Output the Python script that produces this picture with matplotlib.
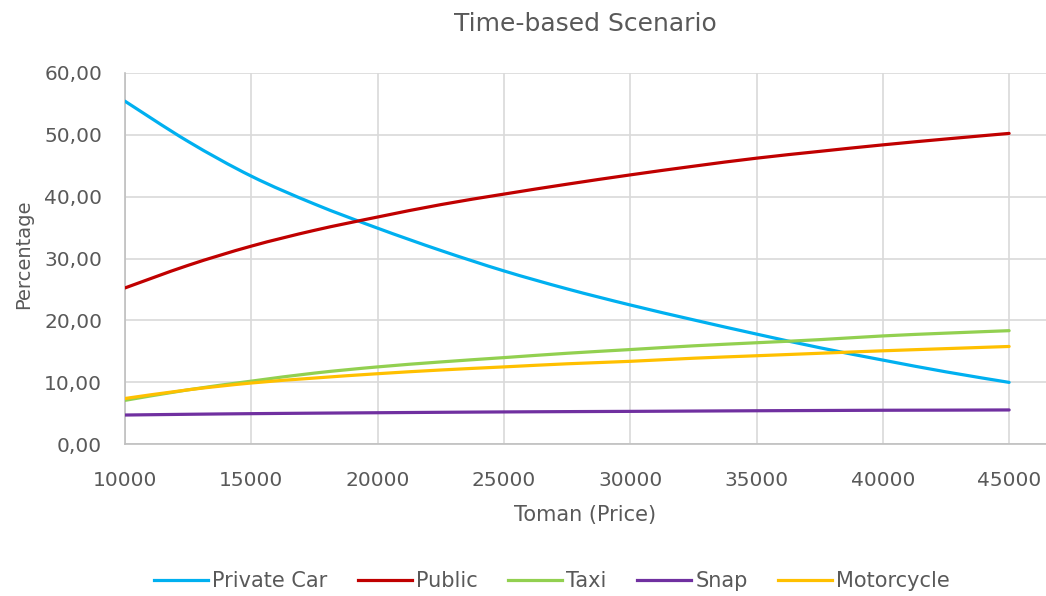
import matplotlib
matplotlib.use("Agg")
import matplotlib.pyplot as plt
from matplotlib.path import Path
from matplotlib.patches import PathPatch
from matplotlib.lines import Line2D
from matplotlib.ticker import FuncFormatter, MultipleLocator

# price steps (Toman) and mode shares (%) under the time-based scenario
price = [10000, 12500, 15000, 17500, 20000, 22500, 25000, 27500,
         30000, 32500, 35000, 37500, 40000, 42500, 45000]
private_car = [55.4, 48.9, 43.3, 38.8, 34.9, 31.3, 28.0, 25.1,
               22.5, 20.1, 17.8, 15.6, 13.6, 11.7, 10.0]
public = [25.25, 28.9, 32.0, 34.55, 36.7, 38.7, 40.4, 42.0,
          43.5, 44.9, 46.2, 47.3, 48.35, 49.3, 50.2]
taxi = [7.1, 8.8, 10.2, 11.5, 12.5, 13.3, 14.0, 14.7,
        15.3, 15.9, 16.4, 16.9, 17.5, 17.95, 18.35]
snap = [4.73, 4.85, 4.95, 5.03, 5.1, 5.17, 5.23, 5.28,
        5.32, 5.37, 5.42, 5.46, 5.5, 5.52, 5.55]
motorcycle = [7.4, 8.8, 9.9, 10.7, 11.4, 12.0, 12.5, 13.0,
              13.4, 13.9, 14.3, 14.7, 15.1, 15.45, 15.8]

series = [
    ("Private Car", private_car, "#00B0F0"),
    ("Public", public, "#C00000"),
    ("Taxi", taxi, "#92D050"),
    ("Snap", snap, "#7030A0"),
    ("Motorcycle", motorcycle, "#FFC000"),
]

TEXT = "#595959"
GRID = "#D9D9D9"


def smooth_path(xs, ys):
    # Catmull-Rom style cubic Bezier through every point (Excel "smoothed line")
    pts = list(zip(xs, ys))
    verts = [pts[0]]
    codes = [Path.MOVETO]
    n = len(pts)
    for i in range(n - 1):
        p0 = pts[max(i - 1, 0)]
        p1 = pts[i]
        p2 = pts[i + 1]
        p3 = pts[min(i + 2, n - 1)]
        c1 = (p1[0] + (p2[0] - p0[0]) / 6, p1[1] + (p2[1] - p0[1]) / 6)
        c2 = (p2[0] - (p3[0] - p1[0]) / 6, p2[1] - (p3[1] - p1[1]) / 6)
        verts += [c1, c2, p2]
        codes += [Path.CURVE4] * 3
    return Path(verts, codes)


fig = plt.figure(figsize=(10.46, 5.96), dpi=100)
ax = fig.add_axes([0.1195, 0.2545, 1.0 - 0.1195, 0.878 - 0.2545])

handles = []
for name, ys, col in series:
    ax.add_patch(PathPatch(smooth_path(price, ys), facecolor="none",
                           edgecolor=col, lw=2.3, capstyle="round",
                           joinstyle="round", zorder=3))
    handles.append(Line2D([], [], color=col, lw=2.3, label=name))

ax.set_xlim(10000, 46460)
ax.set_ylim(0, 60)
ax.set_xticks(range(10000, 45001, 5000))
ax.yaxis.set_major_locator(MultipleLocator(10))
ax.yaxis.set_major_formatter(FuncFormatter(lambda v, p: f"{v:.2f}".replace(".", ",")))

ax.grid(True, color=GRID, lw=1.2, zorder=0)
ax.set_axisbelow(True)
for s in ["top", "right"]:
    ax.spines[s].set_visible(False)
for s in ["left", "bottom"]:
    ax.spines[s].set_color("#BFBFBF")
    ax.spines[s].set_linewidth(1.2)

ax.tick_params(axis="both", length=0, labelsize=14.5, colors=TEXT)
ax.tick_params(axis="y", pad=16.5)
ax.tick_params(axis="x", pad=19)

ax.set_title("Time-based Scenario", fontsize=18, color=TEXT, pad=30)
ax.set_xlabel("Toman (Price)", fontsize=15, color=TEXT, labelpad=11)
ax.set_ylabel("Percentage", fontsize=14, color=TEXT)
ax.yaxis.set_label_coords(-0.1, 0.512)

fig.legend(handles=handles, loc="center", bbox_to_anchor=(552 / 1046, 0.025),
           ncol=5, frameon=False, fontsize=15, labelcolor=TEXT,
           handlelength=2.6, handletextpad=0.2, columnspacing=1.45)

fig.savefig("out.png", dpi=100)
